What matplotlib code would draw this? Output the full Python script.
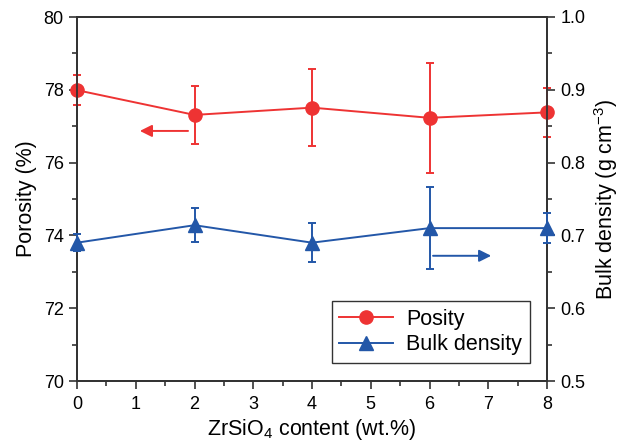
import matplotlib
matplotlib.use("Agg")
import matplotlib.pyplot as plt
from matplotlib.lines import Line2D
from matplotlib.ticker import MultipleLocator

plt.rcParams['font.family'] = ['Liberation Sans', 'DejaVu Sans']
plt.rcParams['mathtext.fontset'] = 'custom'
plt.rcParams['mathtext.rm'] = 'Liberation Sans'
plt.rcParams['mathtext.it'] = 'Liberation Sans:italic'

zrsio4 = [0, 2, 4, 6, 8]
porosity = [77.99, 77.31, 77.51, 77.23, 77.38]
porosity_err = [0.41, 0.79, 1.05, 1.51, 0.67]
bulk_density = [0.690, 0.714, 0.690, 0.710, 0.710]
bulk_err = [0.012, 0.023, 0.027, 0.056, 0.021]

red = '#ee3333'
blue = '#2357a8'
spine_c = '#333333'

fig = plt.figure(figsize=(6.21, 4.41), dpi=100)
ax = fig.add_axes([77 / 621, 1 - 381 / 441, 470 / 621, 364 / 441])
ax2 = ax.twinx()

ax.errorbar(zrsio4, porosity, yerr=porosity_err, color=red, marker='o',
            markersize=9.5, lw=1.4, capsize=3.2, capthick=1.4, elinewidth=1.4,
            clip_on=False, zorder=3)
ax2.errorbar(zrsio4, bulk_density, yerr=bulk_err, color=blue, marker='^',
             markersize=10, lw=1.4, capsize=3.2, capthick=1.4, elinewidth=1.4,
             clip_on=False, zorder=3)

ax.set_xlim(0, 8)
ax.set_ylim(70, 80)
ax2.set_ylim(0.5, 1.0)
ax.xaxis.set_major_locator(MultipleLocator(1))
ax.xaxis.set_minor_locator(MultipleLocator(0.5))
ax.yaxis.set_major_locator(MultipleLocator(2))
ax.yaxis.set_minor_locator(MultipleLocator(1))
ax2.yaxis.set_major_locator(MultipleLocator(0.1))
ax2.yaxis.set_minor_locator(MultipleLocator(0.05))
ax2.yaxis.set_major_formatter(plt.FormatStrFormatter('%.1f'))

for a in (ax, ax2):
    for s in a.spines.values():
        s.set_color(spine_c)
        s.set_linewidth(1.3)
    a.tick_params(which='major', direction='out', length=6, width=1.2,
                  color=spine_c, labelsize=13)
    a.tick_params(which='minor', direction='out', length=3.5, width=1.2,
                  color=spine_c)
ax.tick_params(axis='x', which='major', pad=5)

ax.set_xlabel('ZrSiO$_4$ content (wt.%)', fontsize=15.5, labelpad=3)
ax.set_ylabel('Porosity (%)', fontsize=15.5, labelpad=5)
ax2.set_ylabel('Bulk density (g cm$^{-3}$)', fontsize=15.5, labelpad=5)

# arrows showing which axis each series belongs to
ax.annotate('', xy=(1.07, 76.87), xytext=(1.89, 76.87),
            arrowprops=dict(arrowstyle='-|>', color=red, lw=1.4,
                            mutation_scale=18, shrinkA=0, shrinkB=0))
ax2.annotate('', xy=(7.05, 0.672), xytext=(6.06, 0.672),
             arrowprops=dict(arrowstyle='-|>', color=blue, lw=1.4,
                             mutation_scale=18, shrinkA=0, shrinkB=0))

handles = [Line2D([], [], color=red, marker='o', markersize=9.5, lw=1.4),
           Line2D([], [], color=blue, marker='^', markersize=10, lw=1.4)]
leg = ax2.legend(handles, ['Posity', 'Bulk density'], loc='lower right',
                 bbox_to_anchor=(0.963, 0.05), fontsize=15.5, frameon=True,
                 fancybox=False, edgecolor='black', handlelength=2.5,
                 handletextpad=0.6, borderpad=0.35, labelspacing=0.2,
                 borderaxespad=0)
leg.get_frame().set_linewidth(1.0)

fig.savefig('out.png', dpi=100)
